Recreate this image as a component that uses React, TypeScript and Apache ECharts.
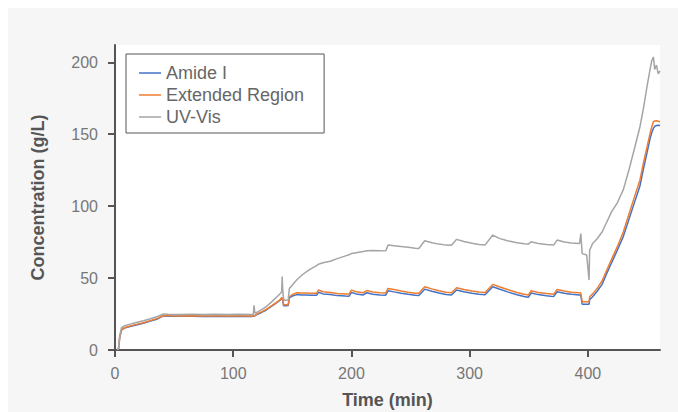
import { useEffect, useRef } from "react";
import * as echarts from "echarts";

const timeMin = [
  2, 3, 4, 5.5, 8, 12, 18, 24, 30, 36, 41, 45, 55, 65, 75, 85, 95, 105, 115, 117,
  117.6, 118.3, 120, 124, 128, 132, 136, 140, 141, 141.4, 142, 142.6, 144, 146.5, 147.5, 150, 154, 158, 162, 166,
  170.5, 172, 176, 182, 188, 195, 198, 200, 204, 210, 213, 218, 224, 229, 231, 236, 242, 248, 254, 257,
  262, 268, 274, 280, 284.6, 289, 295, 302, 308, 313, 319.5, 325, 332, 340, 346, 349.6, 352, 358, 365, 371,
  374, 380, 386, 393, 394, 395.2, 399, 401, 401.5, 404, 408, 412, 416, 420, 425, 430, 435, 440, 444, 447,
  450, 452.6, 454, 455.4, 456.5, 458, 459.5, 461,
];

const extendedRegion = [
  0, 1, 9, 14, 15.5, 16.5, 17.8, 19, 20.4, 22, 24, 23.8, 23.7, 23.8, 23.6, 23.7, 23.6, 23.7, 23.6, 23.6,
  23.7, 24, 25, 26.5, 28.2, 30.5, 32.8, 35.2, 36.6, 36.6, 35, 31.3, 31.4, 31.5, 37, 38.6, 39.8, 39.6, 39.7, 39.4,
  39.4, 41.7, 40.5, 40, 39.3, 39, 38.9, 41.6, 40.5, 39.8, 41.3, 40.3, 39.8, 39.6, 42.8, 42, 41, 40.2, 39.5, 39.4,
  44, 42.5, 41.2, 40.2, 39.8, 43.3, 42, 41, 40.3, 40, 45.6, 44, 42, 40, 38.8, 38.2, 41.2, 40, 39.2, 38.7,
  42.1, 41, 40.2, 39.8, 39.6, 33.6, 33.6, 33.6, 37, 39, 43, 48, 55.6, 63, 72, 82.2, 95, 108, 118, 130,
  141, 150.5, 155, 158.6, 159.2, 159.4, 159, 158.6,
];

const amideI = [
  0, 1, 8.8, 13.8, 15.2, 16.2, 17.4, 18.6, 20.1, 21.6, 23.7, 23.5, 23.4, 23.5, 23.3, 23.5, 23.3, 23.5, 23.3, 23.4,
  23.5, 23.8, 24.7, 26.1, 27.8, 30.1, 32.4, 34.8, 36.1, 36.1, 34.5, 30.7, 30.8, 30.9, 36.2, 37.5, 38.5, 38.3, 38.2, 38,
  38, 40.1, 39, 38.5, 37.8, 37.5, 37.4, 40, 39, 38.3, 39.8, 38.8, 38.3, 38.1, 41.2, 40.4, 39.5, 38.7, 38, 37.9,
  42.3, 40.8, 39.6, 38.6, 38.2, 41.7, 40.5, 39.4, 38.7, 38.4, 44, 42.4, 40.4, 38.4, 37.2, 36.6, 39.6, 38.5, 37.7, 37.1,
  40.5, 39.5, 38.7, 38.2, 38, 31.8, 31.8, 31.8, 35, 37, 41, 45.6, 53.3, 60.6, 69.5, 79, 91.5, 104, 114, 126,
  137, 147, 151, 154, 155.5, 156, 156.2, 156,
];

const uvVis = [
  0, 1.5, 10, 15.5, 16.8, 17.8, 19.1, 20.3, 21.7, 23.3, 25.1, 24.9, 24.7, 24.9, 24.6, 24.8, 24.6, 24.8, 24.7, 24.6,
  31, 25.6, 26.2, 28, 30.2, 33.1, 36.2, 39.4, 40.6, 51, 40, 35.5, 34.5, 34.8, 42.8, 45.2, 49, 52, 54.4, 56.6,
  58.6, 59.6, 60.6, 61.7, 63.5, 65.4, 66.2, 67, 67.6, 68.4, 69, 69.1, 69, 68.9, 72.9, 72.5, 72, 71.4, 70.8, 70.6,
  75.9, 74.6, 73.6, 72.9, 72.8, 76.9, 75.4, 74.2, 73.3, 72.9, 79.9, 77.6, 75.9, 74.5, 73.8, 73.6, 75.2, 74.1, 73.4, 72.9,
  76.4, 75.1, 74.4, 74, 81, 67, 66, 48.6, 69.4, 74, 77.5, 82, 89, 96, 102.5, 111.5, 126, 142, 155, 168,
  183, 195, 201, 203.7, 195, 198, 192, 194,
];

const seriesNames = ["Amide I", "Extended Region", "UV-Vis"];
const seriesColors = ["#4472C4", "#ED7D31", "#A5A5A5"];
const xTicks = [0, 100, 200, 300, 400];
const yTicks = [0, 50, 100, 150, 200];

const FONT = "'Liberation Sans', Arial, Helvetica, sans-serif";

export default function App() {
  const ref = useRef<HTMLDivElement>(null);

  useEffect(() => {
    if (!ref.current) return;
    const chart = echarts.init(ref.current, null, { renderer: "svg" });
    const pair = (vals: number[]) => timeMin.map((t, i) => [t, vals[i]]);
    const valueSets = [amideI, extendedRegion, uvVis];

    chart.setOption({
      animation: false,
      backgroundColor: "#f6f6f6",
      textStyle: { fontFamily: FONT },
      grid: {
        left: 107,
        top: 37,
        right: 18,
        bottom: 62,
        outerBoundsMode: "none",
        containLabel: false,
        show: true,
        backgroundColor: "#ffffff",
        borderWidth: 0,
      },
      legend: {
        data: seriesNames,
        orient: "vertical",
        left: 118,
        top: 46,
        icon: "rect",
        itemWidth: 22,
        itemHeight: 1.5,
        itemGap: 2,
        padding: [9, 20, 6, 13],
        borderColor: "#555555",
        borderWidth: 1,
        backgroundColor: "#ffffff",
        textStyle: { color: "#666666", fontSize: 18, lineHeight: 20, fontFamily: FONT },
      },
      xAxis: {
        type: "value",
        min: 0,
        max: 461,
        name: "Time (min)",
        nameLocation: "middle",
        nameGap: 41,
        nameTextStyle: { color: "#555555", fontSize: 18, fontWeight: "bold", fontFamily: FONT },
        axisLine: { show: true, lineStyle: { color: "#555555", width: 2 } },
        axisTick: { show: true, length: 7, lineStyle: { color: "#555555", width: 2 }, customValues: xTicks },
        axisLabel: { color: "#777777", fontSize: 16, margin: 15, customValues: xTicks, fontFamily: FONT },
        splitLine: { show: false },
      },
      yAxis: {
        type: "value",
        min: 0,
        max: 212,
        name: "Concentration (g/L)",
        nameLocation: "middle",
        nameGap: 68,
        nameTextStyle: { color: "#555555", fontSize: 18, fontWeight: "bold", fontFamily: FONT },
        axisLine: { show: true, lineStyle: { color: "#555555", width: 2 } },
        axisTick: { show: true, length: 7, lineStyle: { color: "#555555", width: 2 }, customValues: yTicks },
        axisLabel: { color: "#777777", fontSize: 16, margin: 17, customValues: yTicks, fontFamily: FONT },
        splitLine: { show: false },
      },
      series: seriesNames.map((name, i) => ({
        name,
        type: "line",
        data: pair(valueSets[i]),
        symbol: "none",
        color: seriesColors[i],
        lineStyle: { color: seriesColors[i], width: 1.5 },
        z: 2 + i,
      })),
    });

    return () => chart.dispose();
  }, []);

  return (
    <div
      ref={ref}
      style={{ position: "fixed", left: 8, top: 8, width: 670, height: 404 }}
    />
  );
}
